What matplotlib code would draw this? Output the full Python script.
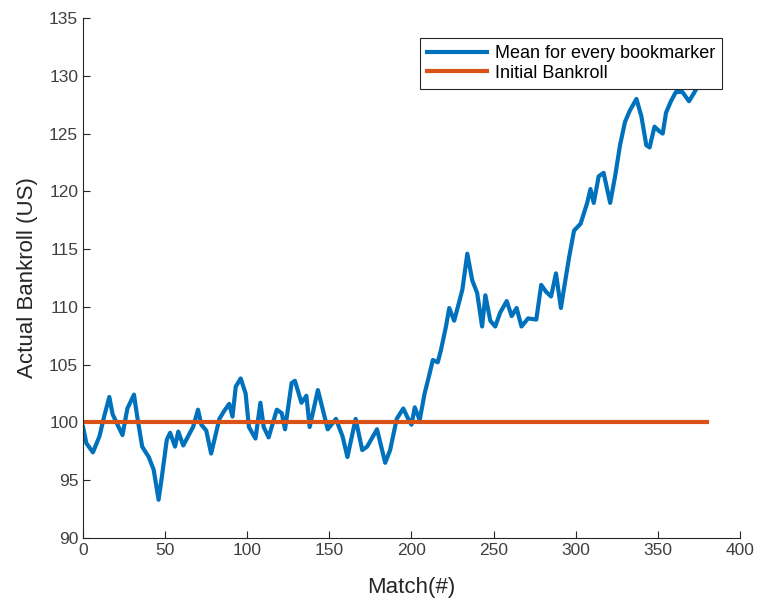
import matplotlib
matplotlib.use("Agg")
import matplotlib.pyplot as plt

plt.rcParams["font.family"] = ["Liberation Sans", "DejaVu Sans"]

# ----- data --------------------------------------------------------
match = [0, 2, 6, 10, 13, 16, 18, 24, 27, 31, 33, 36, 40, 43, 46, 48, 51,
         53, 56, 58, 61, 64, 67, 70, 72, 75, 78, 81, 83, 86, 89, 91, 93, 96,
         99, 101, 105, 108, 110, 113, 118, 121, 123, 127, 129, 133, 136,
         138, 143, 146, 149, 154, 158, 161, 166, 170, 173, 179, 184, 187,
         191, 195, 198, 200, 202, 205, 208, 211, 213, 216, 218, 221, 223,
         226, 229, 231, 234, 237, 240, 243, 245, 248, 251, 254, 258, 261,
         264, 267, 271, 276, 279, 282, 285, 288, 291, 293, 296, 299, 301,
         303, 307, 309, 311, 314, 317, 321, 324, 327, 330, 333, 337, 340,
         343, 345, 348, 351, 353, 355, 358, 361, 365, 369, 372, 376, 380]
bankroll = [99.6, 98.2, 97.4, 98.8, 100.6, 102.2, 100.7, 98.9, 101.2,
            102.4, 100.5, 97.9, 97.0, 95.9, 93.3, 95.3, 98.5, 99.1, 97.9,
            99.2, 98.0, 98.8, 99.6, 101.1, 99.8, 99.3, 97.3, 99.1, 100.3,
            101.0, 101.6, 100.5, 103.1, 103.8, 102.5, 99.6, 98.6, 101.7,
            99.6, 98.7, 101.1, 100.8, 99.4, 103.4, 103.6, 101.7, 102.3,
            99.6, 102.8, 101.1, 99.4, 100.3, 98.8, 97.0, 100.3, 97.6, 97.9,
            99.4, 96.5, 97.6, 100.3, 101.2, 100.3, 99.8, 101.3, 100.2, 102.5,
            104.2, 105.4, 105.2, 106.3, 108.3, 109.9, 108.8, 110.4, 111.5,
            114.6, 112.3, 111.2, 108.3, 111.0, 108.8, 108.3, 109.5, 110.5,
            109.2, 109.9, 108.3, 109.0, 108.9, 111.9, 111.3, 110.9, 112.9,
            109.9, 111.7, 114.3, 116.6, 116.9, 117.2, 119.0, 120.2, 119.0,
            121.3, 121.6, 119.0, 121.3, 124.0, 126.0, 127.0, 128.0, 126.5,
            124.0, 123.8, 125.6, 125.2, 125.0, 126.8, 127.8, 128.6, 128.6,
            127.8, 128.5, 129.5, 130.0]
initial_x = [0, 380]
initial_bankroll = [100, 100]

fig = plt.figure(figsize=(7.62, 6.03), dpi=100)
ax = fig.add_axes([0.109, 0.108, 0.862, 0.862])

ax.plot(match, bankroll, color="#0072BD", linewidth=3.0,
        label="Mean for every bookmarker")
ax.plot(initial_x, initial_bankroll, color="#D95319", linewidth=3.0,
        label="Initial Bankroll")

ax.set_xlim(0, 400)
ax.set_ylim(90, 135)
ax.set_xticks(range(0, 401, 50))
ax.set_yticks(range(90, 136, 5))

for side in ("top", "right"):
    ax.spines[side].set_visible(False)
for side in ("left", "bottom"):
    ax.spines[side].set_color("#262626")
    ax.spines[side].set_linewidth(0.8)
ax.tick_params(direction="in", length=5, width=0.8, colors="#262626",
               labelsize=12.5, labelcolor="#404040")

ax.set_xlabel("Match(#)", fontsize=16, color="#262626", labelpad=14)
ax.set_ylabel("Actual Bankroll (US)", fontsize=16, color="#262626",
              labelpad=8)

leg = ax.legend(loc="upper right", bbox_to_anchor=(0.973, 0.962),
                fontsize=13, frameon=True, fancybox=False, framealpha=1,
                edgecolor="#262626", handlelength=3.3, handletextpad=0.45,
                borderaxespad=0, labelspacing=0.15, borderpad=0.4)
leg.get_frame().set_linewidth(0.8)

plt.savefig("out.png", dpi=100)
